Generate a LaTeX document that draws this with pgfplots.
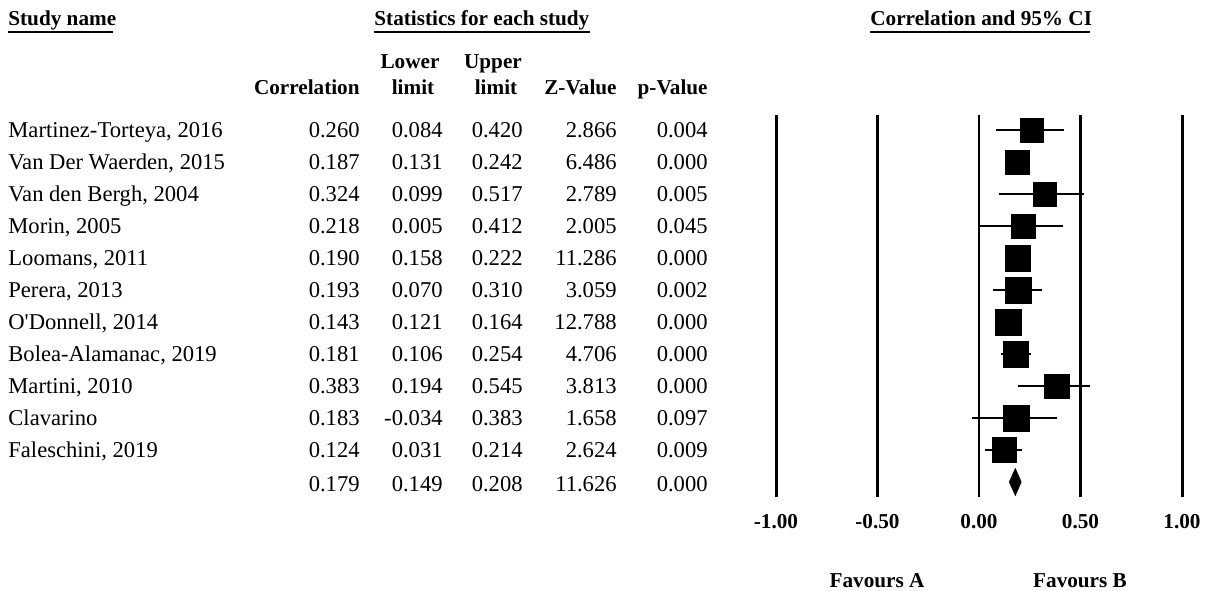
\documentclass[border=0pt]{standalone}
\usepackage{pgfplots}
\pgfplotsset{compat=1.18}
\usepackage{pgfplotstable}
\usepackage{fontspec}
\setmainfont{Liberation Serif}

\pgfplotstableread{
row r lo hi s
1 0.260 0.084 0.420 5.9
2 0.187 0.131 0.242 5.9
3 0.324 0.099 0.517 5.9
4 0.218 0.005 0.412 5.9
5 0.190 0.158 0.222 6.4
6 0.193 0.070 0.310 6.4
7 0.143 0.121 0.164 6.4
8 0.181 0.106 0.254 6.4
9 0.383 0.194 0.545 6.15
10 0.183 -0.034 0.383 6.4
11 0.124 0.031 0.214 6.15
}\studies

\pgfplotstableread{
row r lo hi
1 0.260 0.084 0.420
3 0.324 0.099 0.517
}\thinci

\pgfplotstableread{
row r lo hi
4 0.218 0.005 0.412
6 0.193 0.070 0.310
8 0.181 0.106 0.254
9 0.383 0.194 0.545
10 0.183 -0.034 0.383
11 0.124 0.031 0.214
}\thickci

\newcommand\reg{\fontsize{11.3}{13}\selectfont}
\newcommand\hb{\fontsize{10.6}{12}\selectfont\bfseries}

\begin{document}
\begin{tikzpicture}[x=0.5pt,y=-0.5pt]
\useasboundingbox (0,0) rectangle (1209,590);

% headers
\node[anchor=base west,inner sep=0,font=\hb] (sn) at (8,25) {Study name};
\draw[line width=0.9pt] (8,32) -- (113,32);
\node[anchor=base west,inner sep=0,font=\hb] at (374,25) {Statistics for each study};
\draw[line width=0.9pt] (374,32) -- (590,32);
\node[anchor=base west,inner sep=0,font=\hb] at (870,25) {Correlation and 95\% CI};
\draw[line width=0.9pt] (870,32) -- (1090,32);

\node[anchor=base,inner sep=0,font=\hb] at (410,68) {Lower};
\node[anchor=base,inner sep=0,font=\hb] at (493,68) {Upper};
\node[anchor=base east,inner sep=0,font=\hb] at (360,94) {Correlation};
\node[anchor=base,inner sep=0,font=\hb] at (413,94) {limit};
\node[anchor=base,inner sep=0,font=\hb] at (496,94) {limit};
\node[anchor=base east,inner sep=0,font=\hb] at (617,94) {Z-Value};
\node[anchor=base east,inner sep=0,font=\hb] at (708,94) {p-Value};

% table rows
\foreach \nm/\co/\lo/\up/\zv/\pv [count=\i from 0] in {
  {Martinez-Torteya, 2016}/0.260/0.084/0.420/2.866/0.004,
  {Van Der Waerden, 2015}/0.187/0.131/0.242/6.486/0.000,
  {Van den Bergh, 2004}/0.324/0.099/0.517/2.789/0.005,
  {Morin, 2005}/0.218/0.005/0.412/2.005/0.045,
  {Loomans, 2011}/0.190/0.158/0.222/11.286/0.000,
  {Perera, 2013}/0.193/0.070/0.310/3.059/0.002,
  {O\textquotesingle Donnell, 2014}/0.143/0.121/0.164/12.788/0.000,
  {Bolea-Alamanac, 2019}/0.181/0.106/0.254/4.706/0.000,
  {Martini, 2010}/0.383/0.194/0.545/3.813/0.000,
  {Clavarino}/0.183/-0.034/0.383/1.658/0.097,
  {Faleschini, 2019}/0.124/0.031/0.214/2.624/0.009,
  {}/0.179/0.149/0.208/11.626/0.000}
{
  \pgfmathsetmacro\yy{137.5+32*\i+(\i==11?2:0)}
  \node[anchor=base west,inner sep=0,font=\reg] at (8,\yy) {\nm};
  \node[anchor=base east,inner sep=0,font=\reg] at (360,\yy) {\co};
  \node[anchor=base east,inner sep=0,font=\reg] at (443,\yy) {\lo};
  \node[anchor=base east,inner sep=0,font=\reg] at (523,\yy) {\up};
  \node[anchor=base east,inner sep=0,font=\reg] at (617,\yy) {\zv};
  \node[anchor=base east,inner sep=0,font=\reg] at (708,\yy) {\pv};
}

\node[anchor=base,inner sep=0,font=\hb] at (877,587) {Favours A};
\node[anchor=base,inner sep=0,font=\hb] at (1080,587) {Favours B};

\begin{axis}[
  at={(388pt,-57.5pt)}, anchor=north west,
  scale only axis, width=203pt, height=191pt,
  xmin=-1, xmax=1, ymin=0.53, ymax=12.47, y dir=reverse,
  clip=false,
  axis line style={draw=none},
  major tick length=0pt,
  ytick=\empty,
  xtick={-1,-0.5,0,0.5,1},
  xticklabels={-1.00,-0.50,0.00,0.50,1.00},
  xticklabel style={font=\hb, yshift=-5pt},
]
\addplot[line width=1.5pt] coordinates {(-1,0.53) (-1,12.47)};
\addplot[line width=1.5pt] coordinates {(-0.5,0.53) (-0.5,12.47)};
\addplot[line width=0.75pt] coordinates {(0,0.53) (0,12.47)};
\addplot[line width=1.5pt] coordinates {(0.5,0.53) (0.5,12.47)};
\addplot[line width=1.5pt] coordinates {(1,0.53) (1,12.47)};

\addplot[draw=none, mark=none,
  error bars/.cd, x dir=both, x explicit, y dir=none,
  error mark=none, error bar style={line width=0.6pt, black}]
  table[x=r, y=row, x error plus expr=\thisrow{hi}-\thisrow{r},
        x error minus expr=\thisrow{r}-\thisrow{lo}] {\thinci};
\addplot[draw=none, mark=none,
  error bars/.cd, x dir=both, x explicit, y dir=none,
  error mark=none, error bar style={line width=1.3pt, black}]
  table[x=r, y=row, x error plus expr=\thisrow{hi}-\thisrow{r},
        x error minus expr=\thisrow{r}-\thisrow{lo}] {\thickci};

\addplot[only marks, mark=square*, scatter,
  scatter/use mapped color={draw=black, fill=black},
  mark options={line width=0.2pt},
  visualization depends on={\thisrow{s} \as \msz},
  scatter/@pre marker code/.append style={/tikz/mark size=\msz pt}]
  table[x=r, y=row] {\studies};

\addplot[fill=black, draw=black, line width=0.3pt]
  coordinates {(0.149,12) (0.179,11.58) (0.208,12) (0.179,12.42)} -- cycle;
\end{axis}
\end{tikzpicture}
\end{document}
